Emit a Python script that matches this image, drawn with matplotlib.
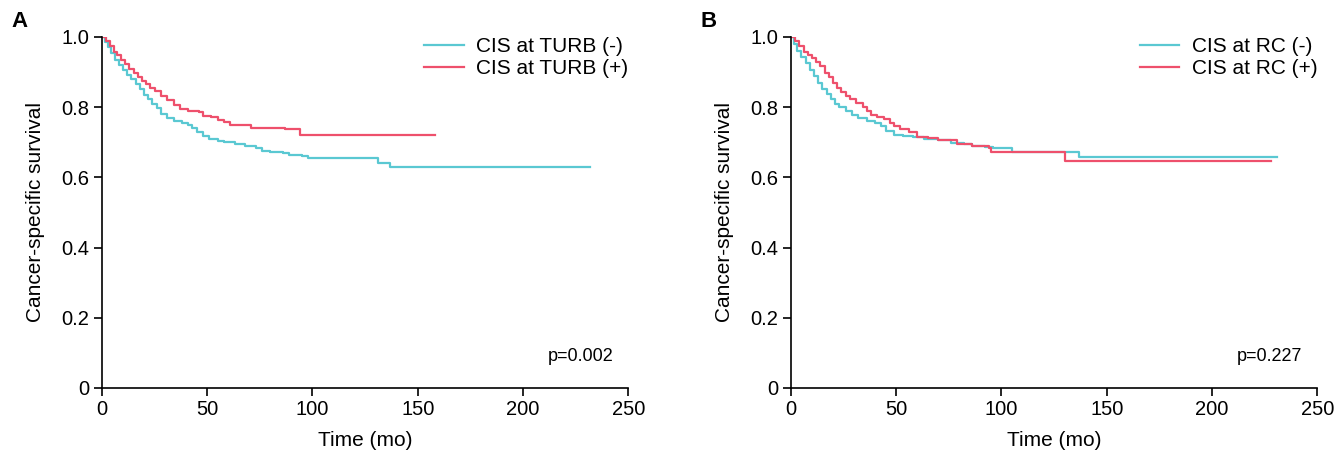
import matplotlib.pyplot as plt

plt.rcParams.update({
    "font.family": ["Liberation Sans", "DejaVu Sans"],
    "font.size": 15,
    "axes.linewidth": 1.2,
    "xtick.major.width": 1.2,
    "ytick.major.width": 1.2,
    "xtick.major.size": 6,
    "ytick.major.size": 6,
})

# ---------------- DATA ----------------
# Panel A: CIS at TURB
turb_neg_t = [0, 1.5, 3, 4.5, 6, 8, 10, 12, 14, 16, 18, 20, 22, 24, 26, 28, 31, 34, 38, 41, 43,
              45, 48, 51, 55, 58, 63, 68, 73, 76, 80, 86, 89, 95, 98, 110, 131, 137, 232]
turb_neg_s = [1.0, 0.985, 0.972, 0.955, 0.934, 0.920, 0.905, 0.893, 0.880, 0.866, 0.852, 0.835,
              0.822, 0.808, 0.797, 0.780, 0.770, 0.762, 0.755, 0.749, 0.740, 0.728, 0.718, 0.710,
              0.705, 0.700, 0.695, 0.690, 0.685, 0.676, 0.673, 0.670, 0.663, 0.662, 0.655, 0.654,
              0.642, 0.630, 0.630]

turb_pos_t = [0, 2, 4, 5.5, 7, 9, 11, 13, 15, 17, 19, 21, 23, 25, 28, 31, 34, 37, 41, 46, 48,
              52, 55, 58, 61, 70, 71, 87, 94, 158]
turb_pos_s = [1.0, 0.990, 0.975, 0.958, 0.948, 0.935, 0.922, 0.910, 0.897, 0.885, 0.876, 0.866,
              0.856, 0.845, 0.832, 0.820, 0.806, 0.795, 0.789, 0.786, 0.775, 0.771, 0.763, 0.757,
              0.749, 0.749, 0.742, 0.737, 0.721, 0.721]

# Panel B: CIS at RC
rc_neg_t = [0, 1.5, 3, 5, 7, 9, 11, 13, 15, 17, 19, 21, 23, 26, 29, 32, 36, 40, 43, 45, 49, 53,
            58, 63, 70, 76, 82, 86, 92, 96, 105, 137, 231]
rc_neg_s = [1.0, 0.980, 0.960, 0.944, 0.926, 0.906, 0.888, 0.870, 0.853, 0.838, 0.822, 0.810,
            0.800, 0.790, 0.778, 0.768, 0.760, 0.754, 0.745, 0.732, 0.722, 0.718, 0.714, 0.710,
            0.707, 0.699, 0.694, 0.690, 0.686, 0.683, 0.673, 0.659, 0.659]

rc_pos_t = [0, 2, 4, 6, 8, 10, 12, 14, 16, 18, 20, 22, 24, 26, 28, 31, 34, 36, 38, 41, 44, 47,
            49, 52, 56, 60, 65, 70, 79, 86, 94, 95, 130, 228]
rc_pos_s = [1.0, 0.990, 0.975, 0.958, 0.950, 0.940, 0.930, 0.918, 0.897, 0.885, 0.870, 0.855,
            0.843, 0.832, 0.822, 0.813, 0.800, 0.790, 0.778, 0.773, 0.766, 0.755, 0.745, 0.738,
            0.730, 0.716, 0.711, 0.707, 0.695, 0.688, 0.683, 0.673, 0.647, 0.647]

panels = [
    ("A", turb_neg_t, turb_neg_s, turb_pos_t, turb_pos_s,
     "CIS at TURB (-)", "CIS at TURB (+)", "p=0.002"),
    ("B", rc_neg_t, rc_neg_s, rc_pos_t, rc_pos_s,
     "CIS at RC (-)", "CIS at RC (+)", "p=0.227"),
]

teal = "#5AC8D2"
red = "#EE506C"

# ---------------- PLOT ----------------
fig = plt.figure(figsize=(13.36, 4.55), dpi=100)
lefts = [0.0763, 0.592]
width = 0.394

for left, (letter, nt, ns, pt, ps, lab_neg, lab_pos, ptxt) in zip(lefts, panels):
    ax = fig.add_axes([left, 0.1473, width, 0.7714])
    ax.step(nt, ns, where="post", color=teal, lw=1.6, label=lab_neg)
    ax.step(pt, ps, where="post", color=red, lw=1.6, label=lab_pos)

    ax.set_xlim(0, 250)
    ax.set_ylim(0, 1.0)
    ax.set_xticks([0, 50, 100, 150, 200, 250])
    ax.set_yticks([0, 0.2, 0.4, 0.6, 0.8, 1.0])
    ax.set_yticklabels(["0", "0.2", "0.4", "0.6", "0.8", "1.0"])
    ax.tick_params(labelsize=14.5, pad=3)
    for side in ("top", "right"):
        ax.spines[side].set_visible(False)
    for sp in ax.spines.values():
        sp.set_clip_on(False)

    ax.set_xlabel("Time (mo)", fontsize=15, labelpad=8)
    ax.set_ylabel("Cancer-specific survival", fontsize=15, labelpad=12)

    ax.legend(loc="upper right", bbox_to_anchor=(1.024, 1.035), frameon=False,
              fontsize=15, handlelength=1.9, handletextpad=0.6,
              labelspacing=0.15, borderaxespad=0.2)
    ax.text(243, 0.09, ptxt, ha="right", va="center", fontsize=13)
    ax.text(-0.172, 1.045, letter, transform=ax.transAxes, fontsize=16,
            fontweight="bold", ha="left", va="center")

plt.savefig("out.png", dpi=100)
